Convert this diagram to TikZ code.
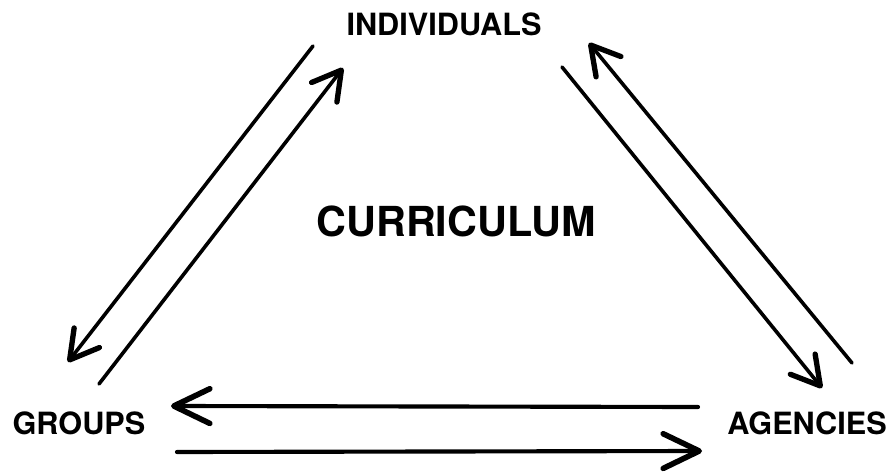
\documentclass[tikz,border=0pt]{standalone}
\usepackage{fontspec}
\setmainfont{TeX Gyre Heros}
\usetikzlibrary{arrows.meta}
\begin{document}
\begin{tikzpicture}[x=0.75pt,y=-0.75pt,
  lbl/.style={font=\fontsize{23}{27}\selectfont\bfseries, inner sep=0pt},
  big/.style={font=\fontsize{31}{36}\selectfont\bfseries, inner sep=0pt},
  diag/.style={line width=2.7pt, line cap=round, -{Straight Barb[length=21pt,width=24pt,line width=4pt,line cap=round,line join=round]}},
  horiz/.style={line width=3.1pt, line cap=round, -{Straight Barb[length=27pt,width=26pt,line width=4.2pt,line cap=round,line join=round]}}]
\useasboundingbox (0,0) rectangle (893,474);
\node[lbl] (ind) at (444,24) {INDIVIDUALS};
\node[big] (cur) at (456,221) {CURRICULUM};
\node[lbl] (grp) at (79,423) {GROUPS};
\node[lbl] (age) at (807,423) {AGENCIES};
% left pair
\coordinate (a1) at (313,46);  \coordinate (a2) at (68,362);
\coordinate (b1) at (99,384);  \coordinate (b2) at (343,68);
% right pair
\coordinate (c1) at (562,67);  \coordinate (c2) at (822,388);
\coordinate (d1) at (852,363); \coordinate (d2) at (589,43);
% bottom pair
\coordinate (e1) at (698,407); \coordinate (e2) at (171,406);
\coordinate (f1) at (177,452); \coordinate (f2) at (702,451);
\draw[diag] (a1) -- (a2);
\draw[diag] (b1) -- (b2);
\draw[diag] (c1) -- (c2);
\draw[diag] (d1) -- (d2);
\draw[horiz] (e1) -- (e2);
\draw[horiz] (f1) -- (f2);
\end{tikzpicture}
\end{document}
